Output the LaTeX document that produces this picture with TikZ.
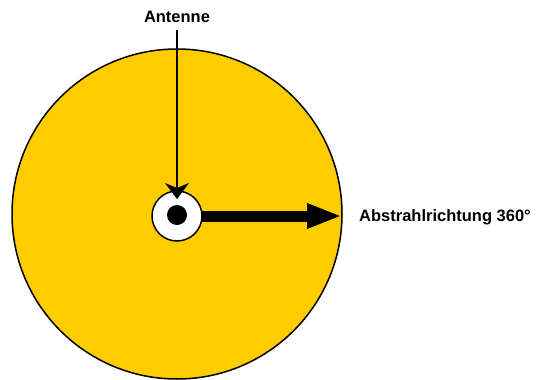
\documentclass[tikz,border=0pt]{standalone}
\usepackage{fontspec}
\setmainfont{Liberation Sans}
\usetikzlibrary{arrows.meta}
\definecolor{disk}{HTML}{FFCC00}
\tikzset{
  lbl/.style={font=\bfseries\fontsize{16.5}{20}\selectfont, inner sep=0pt},
  ring/.style={circle, draw=black, line width=1.5pt, inner sep=0pt, outer sep=0pt}
}
\begin{document}
\begin{tikzpicture}[x=1pt,y=-1pt]
\useasboundingbox (0,0) rectangle (538,380);
\node[ring, fill=disk, minimum size=330pt] (big) at (177,214) {};
\node[ring, fill=white, minimum size=50pt] (small) at (177,216) {};
\node[circle, fill=black, inner sep=0pt, minimum size=20pt] (dot) at (177,215) {};
\node[lbl] (ant) at (177,17) {Antenne};
\node[lbl, anchor=west] (dir) at (359,217) {Abstrahlrichtung 360°};
\coordinate (tip) at (177,199);
\coordinate (rim) at (small.east -| big.east);
\draw[line width=1.2pt, -{Stealth[length=16pt,width=24pt,inset=5pt]}] (177,30) -- (tip);
\draw[line width=11pt, -{Triangle[length=35pt,width=23pt]}] (small.east) -- (rim);
\end{tikzpicture}
\end{document}
